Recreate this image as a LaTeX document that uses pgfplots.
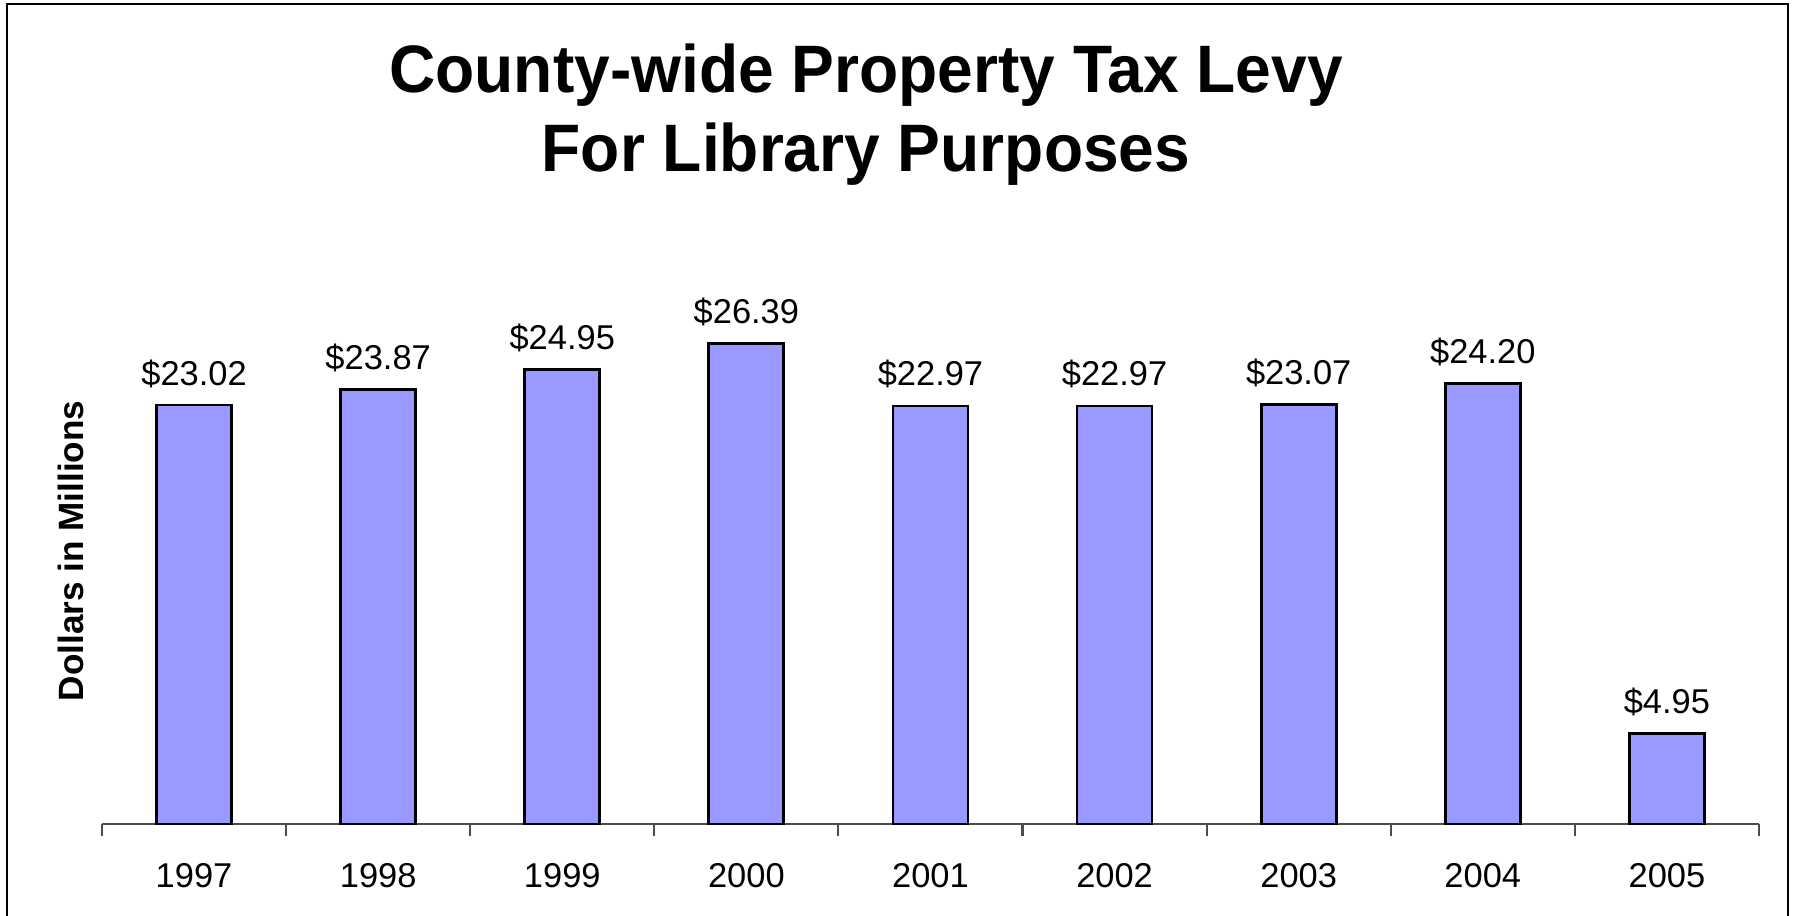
\documentclass[border=0pt]{standalone}
\usepackage{pgfplots}
\pgfplotsset{compat=1.18}
\usepackage{fontspec}
\setmainfont{Liberation Sans}
\newfontfamily\titlefont[FakeStretch=0.955]{Liberation Sans}
\definecolor{barblue}{HTML}{9999FF}

\begin{document}
\begin{tikzpicture}
  \useasboundingbox (0,0) rectangle (17.94,9.16);
  % outer frame (open at the bottom, as cropped in the original)
  \draw[line width=0.6pt] (0.07,-0.2) -- (0.07,9.12) -- (17.88,9.12) -- (17.88,-0.2);

  % title
  \node[anchor=base] at (8.66,8.23) {\titlefont\fontsize{19.1}{22}\selectfont\bfseries County-wide Property Tax Levy};
  \node[anchor=base] at (8.66,7.44) {\titlefont\fontsize{19.1}{22}\selectfont\bfseries For Library Purposes};

  % y label
  \node[rotate=90] at (0.71,3.65) {\fontsize{10}{12}\selectfont\bfseries Dollars in Millions};

  \begin{axis}[
      at={(1.02cm,0.92cm)}, anchor=south west,
      scale only axis,
      width=16.57cm, height=5.46cm,
      xmin=-0.5, xmax=8.5,
      ymin=0, ymax=30,
      axis x line*=bottom,
      axis y line=none,
      x axis line style={black!70, line width=0.6pt, -},
      xtick={0,...,8},
      xticklabels={1997,1998,1999,2000,2001,2002,2003,2004,2005},
      major tick length=0pt,
      extra x ticks={-0.5,0.5,...,8.5},
      extra x tick labels={},
      extra x tick style={major tick length=0.12cm, tick align=outside,
        tick style={black!70, line width=0.6pt}},
      xticklabel style={anchor=base, yshift=-0.64cm, font=\fontsize{9.8}{12}\selectfont},
      /pgf/number format/assume math mode=true,
      ybar, bar width=0.75cm,
      nodes near coords={\$\pgfmathprintnumber[fixed,fixed zerofill,precision=2]{\pgfplotspointmeta}},
      every node near coord/.append style={anchor=base, yshift=0.2cm,
        font=\fontsize{9.8}{12}\selectfont, black},
      clip=false,
    ]
    \addplot[fill=barblue, draw=black, line width=0.8pt] coordinates {
      (0,23.02) (1,23.87) (2,24.95) (3,26.39) (4,22.97)
      (5,22.97) (6,23.07) (7,24.20) (8,4.95)
    };
  \end{axis}
\end{tikzpicture}
\end{document}
